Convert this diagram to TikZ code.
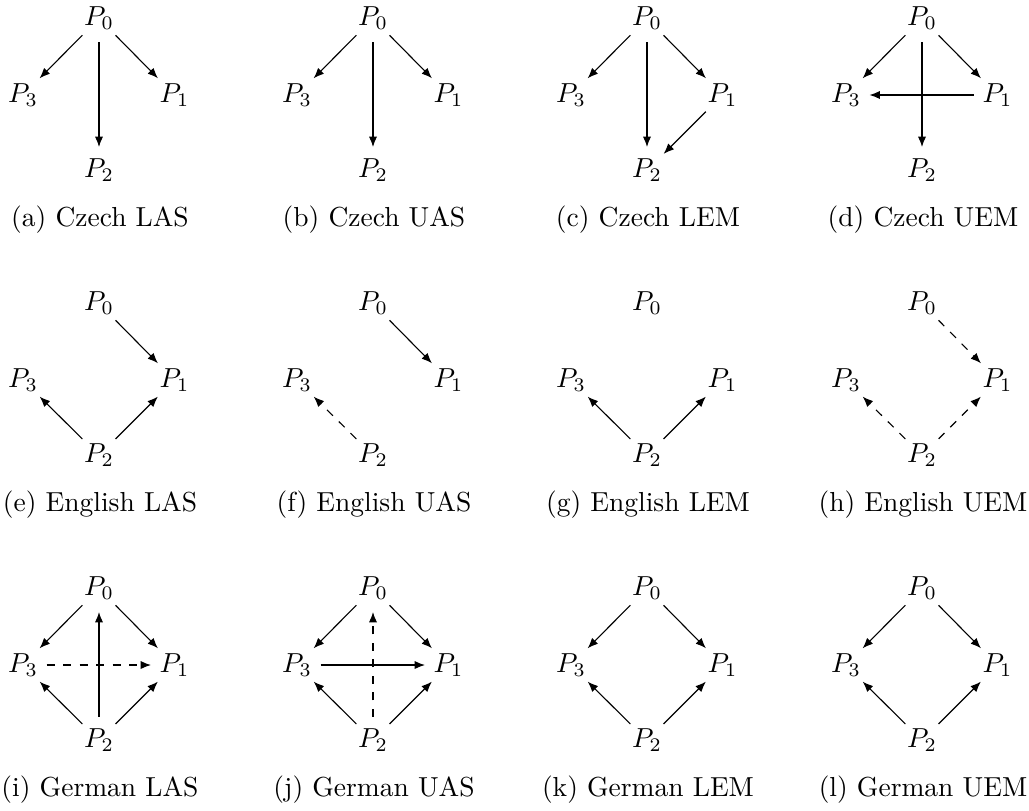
\documentclass[tikz,border=0pt]{standalone}
\usetikzlibrary{arrows.meta}
\tikzset{
  pnode/.style={circle, inner sep=0pt, minimum size=16.7pt},
  arr/.style={-{Latex[length=3.8pt,width=3pt]}, line width=0.4pt},
  darr/.style={arr, dashed},
  captext/.style={inner sep=0pt}
}
\newcommand\mypanel[5]{%
  \node[pnode] (#1-0) at (#2,#3) {$P_0$};
  \node[pnode] (#1-1) at (#2+75.5,#3+76.5) {$P_1$};
  \node[pnode] (#1-2) at (#2,#3+152) {$P_2$};
  \node[pnode] (#1-3) at (#2-76,#3+76.5) {$P_3$};
  \node[captext] (#1-c) at (#2+1,#3+#4) {#5};
}
\begin{document}
\begin{tikzpicture}[x=0.3636pt,y=-0.3636pt]
\useasboundingbox (0,0) rectangle (1029,810);
% row 1
\mypanel{a}{99}{18.5}{201}{(a) Czech LAS}
\mypanel{b}{373}{18.5}{201}{(b) Czech UAS}
\mypanel{c}{647}{18.5}{201}{(c) Czech LEM}
\mypanel{d}{922}{18.5}{201}{(d) Czech UEM}
% row 2
\mypanel{e}{99}{303.5}{201}{(e) English LAS}
\mypanel{f}{373}{303.5}{201}{(f) English UAS}
\mypanel{g}{647}{303.5}{201}{(g) English LEM}
\mypanel{h}{922}{303.5}{201}{(h) English UEM}
% row 3
\mypanel{i}{99}{588.5}{201}{(i) German LAS}
\mypanel{j}{373}{588.5}{201}{(j) German UAS}
\mypanel{k}{647}{588.5}{201}{(k) German LEM}
\mypanel{l}{922}{588.5}{201}{(l) German UEM}
% (a)
\draw[arr] (a-0) -- (a-3);
\draw[arr] (a-0) -- (a-1);
\draw[arr] (a-0) -- (a-2);
% (b)
\draw[arr] (b-0) -- (b-3);
\draw[arr] (b-0) -- (b-1);
\draw[arr] (b-0) -- (b-2);
% (c)
\draw[arr] (c-0) -- (c-3);
\draw[arr] (c-0) -- (c-1);
\draw[arr] (c-0) -- (c-2);
\draw[arr] (c-1) -- (c-2);
% (d)
\draw[arr] (d-0) -- (d-3);
\draw[arr] (d-0) -- (d-1);
\draw[arr] (d-0) -- (d-2);
\draw[arr] (d-1) -- (d-3);
% (e)
\draw[arr] (e-0) -- (e-1);
\draw[arr] (e-2) -- (e-3);
\draw[arr] (e-2) -- (e-1);
% (f)
\draw[arr] (f-0) -- (f-1);
\draw[darr] (f-2) -- (f-3);
% (g)
\draw[arr] (g-2) -- (g-3);
\draw[arr] (g-2) -- (g-1);
% (h)
\draw[darr] (h-0) -- (h-1);
\draw[darr] (h-2) -- (h-3);
\draw[darr] (h-2) -- (h-1);
% (i)
\draw[arr] (i-0) -- (i-3);
\draw[arr] (i-0) -- (i-1);
\draw[arr] (i-2) -- (i-3);
\draw[arr] (i-2) -- (i-1);
\draw[arr] (i-2) -- (i-0);
\draw[darr] (i-3) -- (i-1);
% (j)
\draw[arr] (j-0) -- (j-3);
\draw[arr] (j-0) -- (j-1);
\draw[arr] (j-2) -- (j-3);
\draw[arr] (j-2) -- (j-1);
\draw[darr] (j-2) -- (j-0);
\draw[arr] (j-3) -- (j-1);
% (k)
\draw[arr] (k-0) -- (k-3);
\draw[arr] (k-0) -- (k-1);
\draw[arr] (k-2) -- (k-3);
\draw[arr] (k-2) -- (k-1);
% (l)
\draw[arr] (l-0) -- (l-3);
\draw[arr] (l-0) -- (l-1);
\draw[arr] (l-2) -- (l-3);
\draw[arr] (l-2) -- (l-1);
\end{tikzpicture}
\end{document}
